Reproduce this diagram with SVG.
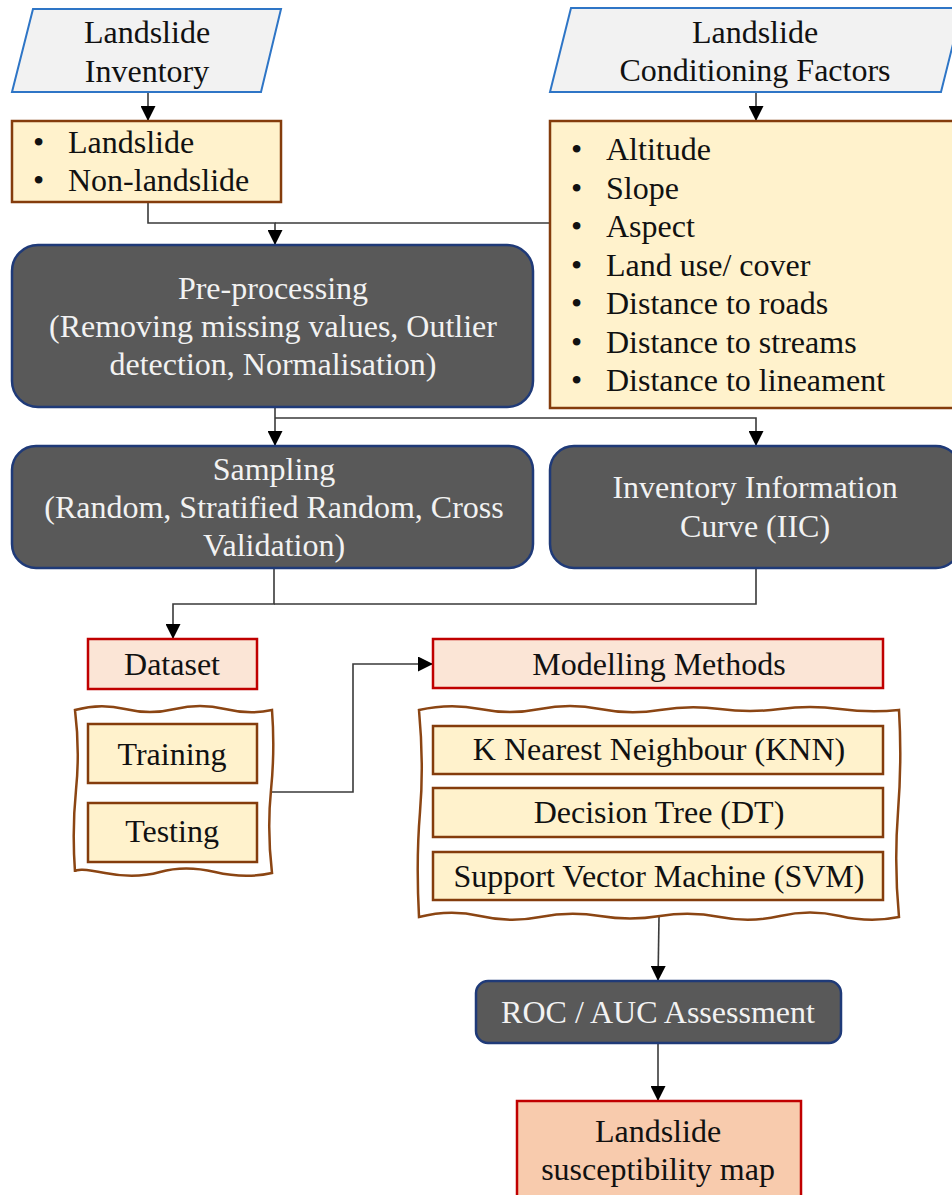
<svg xmlns="http://www.w3.org/2000/svg" width="952" height="1195" viewBox="0 0 952 1195">
<style>
text{font-family:"Liberation Serif","Times New Roman",serif;font-size:32px;fill:#111}
.c{text-anchor:middle}
.w{fill:#f2f2f2}
.para{fill:#f2f2f2;stroke:#2e75c6;stroke-width:2}
.yel{fill:#fff2cc;stroke:#843c0c;stroke-width:2.5}
.dark{fill:#595959;stroke:#1f3a78;stroke-width:2.5}
.red{fill:#fbe5d6;stroke:#c00000;stroke-width:2.5}
.final{fill:#f8cbad;stroke:#c00000;stroke-width:2.5}
.wavy{fill:#fff;stroke:#8b4513;stroke-width:2.5}
.ln{fill:none;stroke:#3a3a3a;stroke-width:1.6}
</style>
<defs>
<marker id="ah" markerWidth="15" markerHeight="15" refX="15" refY="7.5" orient="auto" markerUnits="userSpaceOnUse">
<path d="M0,0 L15,7.5 L0,15 Z" fill="#000"/>
</marker>
</defs>

<g id="connectors">
<path class="ln" d="M148,92 V121" marker-end="url(#ah)"/>
<path class="ln" d="M756,92 V121" marker-end="url(#ah)"/>
<path class="ln" d="M148,202 V223 H275 V245" marker-end="url(#ah)"/>
<path class="ln" d="M550,223 H275"/>
<path class="ln" d="M275,407 V446" marker-end="url(#ah)"/>
<path class="ln" d="M275,418 H756 V446" marker-end="url(#ah)"/>
<path class="ln" d="M274,568 V604 H173 V639" marker-end="url(#ah)"/>
<path class="ln" d="M756,568 V604 H274"/>
<path class="ln" d="M272,792 H353 V664 H433" marker-end="url(#ah)"/>
<path class="ln" d="M659,917 L658,981" marker-end="url(#ah)"/>
<path class="ln" d="M658,1043 V1101" marker-end="url(#ah)"/>
</g>

<g id="landslide-inventory">
<polygon class="para" points="33,9 281,9 261,92 12,92"/>
<text class="c" x="147" y="43">Landslide</text>
<text class="c" x="147" y="82">Inventory</text>
</g>

<g id="conditioning-factors">
<polygon class="para" points="571,8 962,8 941,92 550,92"/>
<text class="c" x="755" y="43">Landslide</text>
<text class="c" x="755" y="81">Conditioning Factors</text>
</g>

<g id="inventory-list">
<rect class="yel" x="12" y="121" width="269" height="81"/>
<text x="33" y="153">•</text><text x="68" y="153">Landslide</text>
<text x="33" y="191">•</text><text x="68" y="191">Non-landslide</text>
</g>

<g id="factors-list">
<rect class="yel" x="550" y="121" width="412" height="287"/>
<text x="571" y="160">•</text><text x="606" y="160">Altitude</text>
<text x="571" y="198.5">•</text><text x="606" y="198.5">Slope</text>
<text x="571" y="237">•</text><text x="606" y="237">Aspect</text>
<text x="571" y="275.5">•</text><text x="606" y="275.5">Land use/ cover</text>
<text x="571" y="314">•</text><text x="606" y="314">Distance to roads</text>
<text x="571" y="352.5">•</text><text x="606" y="352.5">Distance to streams</text>
<text x="571" y="391">•</text><text x="606" y="391">Distance to lineament</text>
</g>

<g id="pre-processing">
<rect class="dark" x="12" y="245" width="521" height="162" rx="26"/>
<text class="c w" x="273" y="299">Pre-processing</text>
<text class="c w" x="273" y="337">(Removing missing values, Outlier</text>
<text class="c w" x="273" y="375">detection, Normalisation)</text>
</g>

<g id="sampling">
<rect class="dark" x="12" y="446" width="521" height="122" rx="24"/>
<text class="c w" x="274" y="480">Sampling</text>
<text class="c w" x="274" y="518">(Random, Stratified Random, Cross</text>
<text class="c w" x="274" y="556">Validation)</text>
</g>

<g id="iic">
<rect class="dark" x="550" y="446" width="410" height="122" rx="24"/>
<text class="c w" x="755" y="498">Inventory Information</text>
<text class="c w" x="755" y="537">Curve (IIC)</text>
</g>

<g id="dataset">
<rect class="red" x="88" y="639" width="169" height="50"/>
<text class="c" x="172" y="675">Dataset</text>
</g>

<g id="dataset-group">
<path class="wavy" d="M75,710 Q100,703 125,709 T175,709 T225,709 T272,710 Q275,750 271,790 T272,873 Q245,879 215,872 T160,872 T105,873 T75,872 Q72,830 76,790 T75,710 Z"/>
</g>

<g id="training">
<rect class="yel" x="88" y="724" width="169" height="59"/>
<text class="c" x="172" y="765">Training</text>
</g>

<g id="testing">
<rect class="yel" x="88" y="803" width="169" height="59"/>
<text class="c" x="172" y="842">Testing</text>
</g>

<g id="modelling-methods">
<rect class="red" x="433" y="639" width="450" height="49"/>
<text class="c" x="659" y="675">Modelling Methods</text>
</g>

<g id="methods-group">
<path class="wavy" d="M419,710 Q450,703 480,709 T540,709 T600,709 T660,710 T720,709 T780,709 T840,709 T899,710 Q902,760 898,812 T899,917 Q870,923 840,916 T780,916 T720,917 T660,916 T600,916 T540,917 T480,916 T419,917 Q416,860 420,812 T419,710 Z"/>
</g>

<g id="knn">
<rect class="yel" x="433" y="726" width="450" height="48"/>
<text class="c" x="659" y="760">K Nearest Neighbour (KNN)</text>
</g>

<g id="dt">
<rect class="yel" x="433" y="788" width="450" height="49"/>
<text class="c" x="659" y="823">Decision Tree (DT)</text>
</g>

<g id="svm">
<rect class="yel" x="433" y="852" width="450" height="48"/>
<text class="c" x="659" y="887">Support Vector Machine (SVM)</text>
</g>

<g id="roc-auc">
<rect class="dark" x="476" y="981" width="365" height="62" rx="12"/>
<text class="c w" x="658" y="1023">ROC / AUC Assessment</text>
</g>

<g id="susceptibility-map">
<rect class="final" x="517" y="1101" width="284" height="110"/>
<text class="c" x="658" y="1142">Landslide</text>
<text class="c" x="658" y="1180">susceptibility map</text>
</g>
</svg>
